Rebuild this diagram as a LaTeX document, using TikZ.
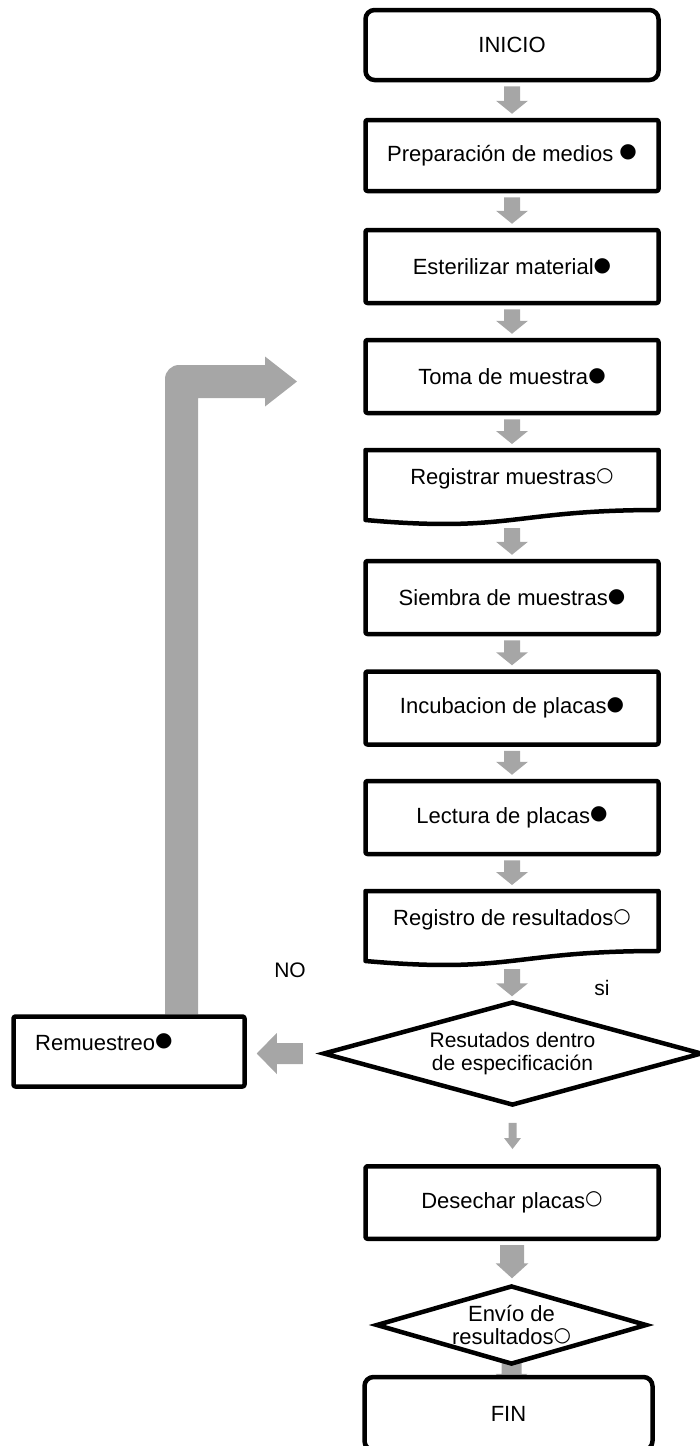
\documentclass[tikz,border=0pt]{standalone}
\usepackage{fontspec}
\setmainfont{Liberation Sans}
\newfontfamily\symf{DejaVu Sans}
\usetikzlibrary{shapes.geometric,calc}
\pgfdeclarelayer{bg}
\pgfsetlayers{bg,main}
\definecolor{agray}{RGB}{166,166,166}
\newcommand\fsz{\fontsize{22pt}{23pt}\selectfont}
\newcommand\fszs{\fontsize{21pt}{22.5pt}\selectfont}
\newcommand\fbul{\raisebox{3.5pt}{\symf\fontsize{20pt}{20pt}\selectfont ●}}
\newcommand\ocir{\raisebox{3.5pt}{\symf\fontsize{20pt}{20pt}\selectfont ○}}
% downward block arrow: from, to, shaft half width, head half width, head length
\newcommand\darrow[5]{\fill[agray] let \p1=#1, \p2=#2 in
  (\x1-#3,\y1) -- (\x1+#3,\y1) -- (\x1+#3,\y2+#5) -- (\x1+#4,\y2+#5) -- (\x1,\y2)
  -- (\x1-#4,\y2+#5) -- (\x1-#3,\y2+#5) -- cycle;}
% leftward block arrow
\newcommand\larrow[5]{\fill[agray] let \p1=#1, \p2=#2 in
  (\x1,\y1-#3) -- (\x1,\y1+#3) -- (\x2+#5,\y1+#3) -- (\x2+#5,\y1+#4) -- (\x2,\y1)
  -- (\x2+#5,\y1-#4) -- (\x2+#5,\y1-#3) -- cycle;}
\newcommand\flowarrow[2]{\darrow{#1}{#2}{8pt}{16pt}{13pt}}
\newcommand\docpath[1]{\draw[docline] (#1.north west) -- (#1.north east)
  -- ($(#1.north east)+(0,60)$)
  .. controls ($(#1.north)+(0,60)$) and ($(#1.north)+(0,83)$) .. ($(#1.north west)+(0,70)$)
  -- cycle;}
\begin{document}
\begin{tikzpicture}[x=1pt,y=-1pt,
  box/.style={draw, line width=4.5pt, fill=white, rectangle, rounded corners=2pt,
    line join=round, minimum width=293pt, minimum height=73pt, inner sep=0pt, font=\fsz},
  termbox/.style={box, rounded corners=9pt},
  docnode/.style={rectangle, minimum width=293pt, minimum height=58pt, inner sep=0pt,
    outer sep=0pt, font=\fsz},
  docline/.style={draw, line width=4.5pt, line join=round},
  decision/.style={draw, line width=4.5pt, fill=white, shape=diamond, inner sep=0pt,
    align=center},
  lbl/.style={font=\fszs, inner sep=0pt}
]
\useasboundingbox (0,0) rectangle (700,1446);

% main column
\node[termbox, minimum height=70pt] (inicio) at (512,45) {INICIO};
\node[box, minimum height=71pt] (prep) at (512,155.5) {Preparación de medios \fbul};
\node[box] (est) at (512,266.5) {Esterilizar material\fbul};
\node[box] (toma) at (512,376.5) {Toma de muestra\fbul};
\node[docnode] (reg1) at (512,479) {Registrar muestras\ocir};
\docpath{reg1}
\node[box] (siem) at (512,597.5) {Siembra de muestras\fbul};
\node[box] (incu) at (512,708) {Incubacion de placas\fbul};
\node[box] (lect) at (512,817.5) {Lectura de placas\fbul};
\node[docnode] (reg2) at (512,920) {Registro de resultados\ocir};
\docpath{reg2}
\node[decision, font=\fszs, minimum width=379pt, minimum height=104pt, aspect=3.6]
  (dec) at (512.5,1053.5) {Resutados dentro\\de especificación};
\node[box, minimum width=231pt, minimum height=70pt] (remu) at (129,1051.5) {};
\node[font=\fsz, inner sep=0pt, anchor=base west] (remutxt) at (35,1050) {Remuestreo\fbul};
\node[box, minimum height=72.5pt] (des) at (512,1202.5) {Desechar placas\ocir};
\node[decision, font=\fsz, minimum width=271pt, minimum height=79pt, aspect=3.4]
  (env) at (511.5,1325) {Envío de\\resultados\ocir};
\node[termbox, minimum width=288pt] (fin) at (508.5,1413.5) {FIN};

% labels
\node[lbl] (no) at (290,970) {NO};
\node[lbl] (si) at (602,988) {si};

% loop geometry
\coordinate (lc) at (181.5,381.5);
\coordinate (ltip) at (297,381.5);
\coordinate (lstart) at (remu.north -| lc);

\begin{pgfonlayer}{bg}
\flowarrow{($(inicio.south)+(0,4)$)}{($(prep.north)+(0,-4)$)}
\flowarrow{($(prep.south)+(0,4)$)}{($(est.north)+(0,-4)$)}
\flowarrow{($(est.south)+(0,4)$)}{($(toma.north)+(0,-4)$)}
\flowarrow{($(toma.south)+(0,4)$)}{($(reg1.north)+(0,-6)$)}
\flowarrow{($(reg1.north)+(0,78)$)}{($(siem.north)+(0,-4)$)}
\flowarrow{($(siem.south)+(0,4)$)}{($(incu.north)+(0,-4)$)}
\flowarrow{($(incu.south)+(0,4)$)}{($(lect.north)+(0,-4)$)}
\flowarrow{($(lect.south)+(0,4)$)}{($(reg2.north)+(0,-6)$)}
\flowarrow{($(reg2.north)+(0,78)$)}{($(dec.north)+(0,-3)$)}
\darrow{($(dec.south)+(0,15)$)}{($(des.north)+(0,-15)$)}{4pt}{8.5pt}{11pt}
\darrow{($(des.south)+(0,4)$)}{($(env.north)+(0,-5)$)}{12pt}{16.5pt}{15pt}
\darrow{($(env.south)+(0,-10)$)}{($(fin.north)+(0,12)$)}{10pt}{16pt}{13pt}
\larrow{($(dec.west)+(-18,0)$)}{($(remu.east)+(10,0)$)}{10.5pt}{20.5pt}{20pt}
% loop back arrow Remuestreo -> Toma de muestra
\fill[agray] let \p1=(lstart), \p2=(lc), \p3=(ltip) in
  (\x2+16.5pt,\y1) -- (\x2+16.5pt,\y2-16.5pt) -- (\x3-32pt,\y2-16.5pt)
  -- (\x3-32pt,\y2-25pt) -- (\x3,\y2) -- (\x3-32pt,\y2+25pt) -- (\x3-32pt,\y2+16.5pt)
  -- (\x2-2.5pt,\y2+16.5pt)
  .. controls (\x2-10.2pt,\y2+16.5pt) and (\x2-16.5pt,\y2+10.2pt) .. (\x2-16.5pt,\y2+2.5pt)
  -- (\x2-16.5pt,\y1) -- cycle;
\end{pgfonlayer}
\end{tikzpicture}
\end{document}
